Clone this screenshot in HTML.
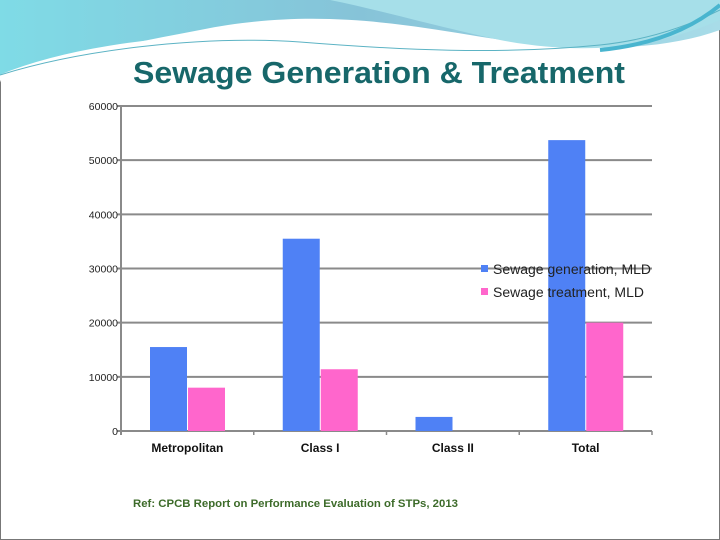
<!DOCTYPE html>
<html><head><meta charset="utf-8">
<style>
body{margin:0;width:720px;height:540px;overflow:hidden;background:#fff;font-family:"Liberation Sans",sans-serif}
svg{display:block}
</style></head>
<body>
<svg id="c" width="720" height="540" viewBox="0 0 720 540">
<defs>
<linearGradient id="g1" x1="0" y1="0" x2="1" y2="0">
<stop offset="0" stop-color="#7fdbe6"/><stop offset="0.5" stop-color="#86c3d8"/><stop offset="1" stop-color="#a8dce8"/></linearGradient>
</defs>
<rect x="0.5" y="0.5" width="719" height="539" fill="#fff" stroke="#777"/>
<g>
<path d="M0,0 H720 V30 C650,55 560,50 470,35 C380,20 300,10 200,30 C120,45 50,60 0,80 Z" fill="url(#g1)"/>
<path d="M330,0 C380,10 430,25 500,40 C580,55 650,50 720,20 V0 Z" fill="#a6dfe9"/>
<path d="M0,80 C60,55 150,40 250,40 C350,40 420,50 500,45" stroke="#fff" stroke-width="10" fill="none"/>
<path d="M0,75 C80,50 200,35 300,42 C400,50 500,55 600,45 C650,40 690,25 720,10" stroke="#5cb3c4" stroke-width="1" fill="none"/>
<path d="M600,50 C650,45 690,30 720,5" stroke="#49b5cf" stroke-width="4" fill="none"/>
</g>
<text x="133" y="83" textLength="492" lengthAdjust="spacingAndGlyphs" font-family="'Liberation Sans',sans-serif" font-weight="bold" font-size="31" fill="#17676a">Sewage Generation &amp; Treatment</text>
<g id="grid"></g>
<g id="bars"></g>
<g id="labels"></g>
<g>
<rect x="481" y="265" width="7" height="7" fill="#4f81f5"/>
<text x="493" y="274" textLength="158" lengthAdjust="spacingAndGlyphs" font-size="13.5" fill="#222">Sewage generation, MLD</text>
<rect x="481" y="288" width="7" height="7" fill="#ff66cc"/>
<text x="493" y="297" textLength="151" lengthAdjust="spacingAndGlyphs" font-size="13.5" fill="#222">Sewage treatment, MLD</text>
</g>
<text x="133" y="507" textLength="325" lengthAdjust="spacingAndGlyphs" font-family="'Liberation Sans',sans-serif" font-weight="bold" font-size="11" fill="#3d6b2a">Ref: CPCB Report on Performance Evaluation of STPs, 2013</text>
</svg>
<script>
const categories=["Metropolitan","Class I","Class II","Total"];
const generation=[15500,35500,2600,53700];
const treatment=[8000,11400,0,20000];
const ticks=[0,10000,20000,30000,40000,50000,60000];
const NS="http://www.w3.org/2000/svg";
const x0=121,x1=652,y0=431,y1=106,yMax=60000;
const cw=(x1-x0)/categories.length;
function yS(v){return y0-(v/yMax)*(y0-y1);}
function mk(t,a,p){const e=document.createElementNS(NS,t);for(const k in a)e.setAttribute(k,a[k]);p.appendChild(e);return e;}
const grid=document.getElementById('grid'),bars=document.getElementById('bars'),labels=document.getElementById('labels');
ticks.forEach(t=>{
 const y=yS(t);
 const l=mk('line',{x1:x0-4,x2:x1,y1:y,y2:y,stroke:'#8a8a8a','stroke-width':2},grid);
 
 
 const tx=mk('text',{x:x0-3,y:y+4,'text-anchor':'end','font-size':10.5,fill:'#222'},labels);
 tx.textContent=t;
 
 
});
const ax=mk('line',{x1:x0,x2:x0,y1:y1,y2:y0+4,stroke:'#8a8a8a','stroke-width':2},grid);


for(let i=0;i<=categories.length;i++){
 const tk=mk('line',{x1:x0+i*cw,x2:x0+i*cw,y1:y0,y2:y0+4,stroke:'#8a8a8a','stroke-width':1.5},grid);
 
 
}
categories.forEach((c,i)=>{
 const bx=x0+i*cw+29,bw=37;
 const b1=mk('rect',{x:bx,y:yS(generation[i]),width:bw,height:y0-yS(generation[i]),fill:'#4f81f5'},bars);
 
 
 const b2=mk('rect',{x:bx+bw+1,y:yS(treatment[i]),width:bw,height:y0-yS(treatment[i]),fill:'#ff66cc'},bars);
 
 
 const tx=mk('text',{x:x0+i*cw+cw/2,y:452,'text-anchor':'middle','font-size':12,'font-weight':'bold',fill:'#111'},labels);
 tx.textContent=c;
 
 
});
</script>
</body></html>
